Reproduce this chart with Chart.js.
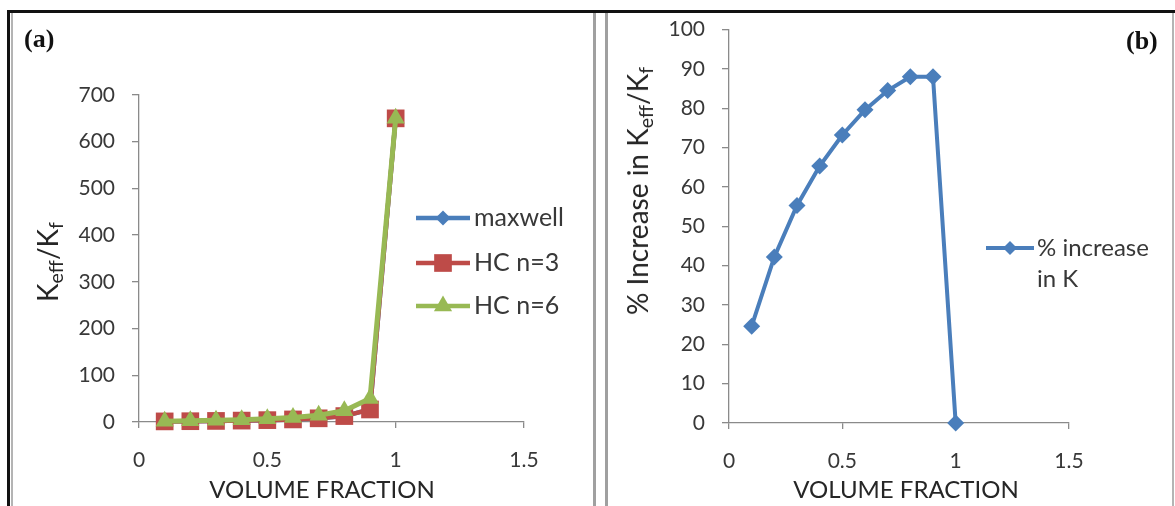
<!DOCTYPE html>
<html>
<head>
<meta charset="utf-8">
<script src="https://cdn.jsdelivr.net/npm/chart.js@4.4.1/dist/chart.umd.min.js"></script>
<style>
  html, body { margin:0; padding:0; background:#fff; }
  #wrap { position:relative; width:1175px; height:506px; overflow:hidden; background:#fff; font-family: Lato, "Open Sans", sans-serif; }
  canvas { position:absolute; top:0; }
  .ln { position:absolute; }
  .lbl { position:absolute; font-family:"Liberation Serif", "DejaVu Serif", serif; font-weight:bold; font-size:26px; color:#111; line-height:1; }
  .xt { position:absolute; font-family:Lato, sans-serif; font-size:24px; color:#262626; white-space:nowrap; transform:translate(-50%,-50%); line-height:1; }
  .yt { position:absolute; font-family:Lato, sans-serif; font-size:28px; color:#262626; white-space:nowrap; transform:translate(-50%,-50%) rotate(-90deg); line-height:1; }
  .yt sub { font-size:70%; vertical-align:-0.25em; line-height:0; }
</style>
</head>
<body>
<div id="wrap">
  <canvas id="ca" width="600" height="506" style="left:0px"></canvas>
  <canvas id="cb" width="575" height="506" style="left:600px"></canvas>

  <div class="ln" style="left:7px;top:10px;width:1168px;height:3px;background:#111"></div>
  <div class="ln" style="left:7px;top:10px;width:3px;height:496px;background:#111"></div>
  <div class="ln" style="left:11px;top:13px;width:2px;height:493px;background:#b4b4b4"></div>
  <div class="ln" style="left:593px;top:13px;width:3px;height:493px;background:#a0a0a0"></div>
  <div class="ln" style="left:605px;top:13px;width:3px;height:493px;background:#a0a0a0"></div>
  <div class="ln" style="left:1172px;top:13px;width:2px;height:493px;background:#b4b4b4"></div>

  <div class="lbl" style="left:24px;top:26px">(a)</div>
  <div class="lbl" style="left:1126px;top:28px">(b)</div>

  <div class="xt" style="left:322px;top:489px">VOLUME FRACTION</div>
  <div class="xt" style="left:906px;top:489px">VOLUME FRACTION</div>
  <div class="yt" style="left:47px;top:262px">K<sub>eff</sub>/K<sub>f</sub></div>
  <div class="yt" style="left:637px;top:191px">% Increase in K<sub>eff</sub>/K<sub>f</sub></div>
</div>
<script>
// ---- data ----
const volumeFraction = [0.1, 0.2, 0.3, 0.4, 0.5, 0.6, 0.7, 0.8, 0.9, 1.0];
const maxwell   = [1.3, 1.7, 2.3, 3.0, 4.0, 5.5, 7.9, 12.7, 26.8, 650];
const hcN3      = [1.3, 1.7, 2.3, 3.0, 4.0, 5.5, 7.9, 12.7, 26.8, 650];
const hcN6      = [1.7, 2.5, 3.5, 4.9, 6.9, 9.8, 14.6, 23.9, 50.4, 650];
const percentIncrease = [24.6, 42.2, 55.3, 65.3, 73.2, 79.6, 84.5, 88.0, 88.0, 0];
const xTicks = [0, 0.5, 1, 1.5];
const yTicksA = [0, 100, 200, 300, 400, 500, 600, 700];
const yTicksB = [0, 10, 20, 30, 40, 50, 60, 70, 80, 90, 100];
const legendA = ['maxwell', 'HC n=3', 'HC n=6'];
const legendB = ['% increase', 'in K'];

const BLUE = '#4A7EBB', RED = '#BE4B48', GREEN = '#98B954';
const AXIS = '#8a8a8a', TXT = '#383838';

function pts(ys) { return volumeFraction.map((x, i) => ({ x: x, y: ys[i] })); }

function drawMarker(ctx, style, x, y, r, color) {
  ctx.save();
  ctx.fillStyle = color;
  ctx.beginPath();
  if (style === 'rect') {
    const s = r * Math.SQRT1_2;
    ctx.rect(x - s, y - s, 2 * s, 2 * s);
  } else if (style === 'triangle') {
    ctx.moveTo(x, y - r);
    ctx.lineTo(x + r * Math.sqrt(3) / 2, y + r / 2);
    ctx.lineTo(x - r * Math.sqrt(3) / 2, y + r / 2);
    ctx.closePath();
  } else {
    ctx.moveTo(x, y - r); ctx.lineTo(x + r, y); ctx.lineTo(x, y + r); ctx.lineTo(x - r, y); ctx.closePath();
  }
  ctx.fill();
  ctx.restore();
}

const legendPlugin = {
  id: 'customLegend',
  afterDraw(chart, args, opts) {
    if (!opts || !opts.items) return;
    const ctx = chart.ctx;
    ctx.save();
    opts.items.forEach(it => {
      if (it.line) {
        ctx.strokeStyle = it.color;
        ctx.lineWidth = it.lw;
        ctx.beginPath();
        ctx.moveTo(it.x0, it.y); ctx.lineTo(it.x1, it.y); ctx.stroke();
        drawMarker(ctx, it.style, (it.x0 + it.x1) / 2, it.y, it.r, it.color);
      }
      ctx.fillStyle = TXT;
      ctx.font = it.font;
      ctx.textBaseline = 'middle';
      ctx.textAlign = 'left';
      ctx.fillText(it.text, it.tx, it.y);
    });
    ctx.restore();
  }
};

function axisX(w) {
  return {
    type: 'linear', min: 0, max: 1.5,
    afterBuildTicks: s => { s.ticks = xTicks.map(v => ({ value: v })); },
    afterFit: s => { s.height = w; },
    ticks: { color: TXT, font: { family: 'Lato', size: 21 }, padding: 20, callback: v => String(v) },
    grid: { drawOnChartArea: false, drawTicks: true, tickLength: 6, color: AXIS, lineWidth: 1.3 },
    border: { display: true, color: AXIS, width: 1.3 }
  };
}
function axisY(ticks, max, w) {
  return {
    type: 'linear', min: 0, max: max,
    afterBuildTicks: s => { s.ticks = ticks.map(v => ({ value: v })); },
    afterFit: s => { s.width = w; },
    ticks: { color: TXT, font: { family: 'Lato', size: 21 }, padding: 17, callback: v => String(v) },
    grid: { drawOnChartArea: false, drawTicks: true, tickLength: 7, color: AXIS, lineWidth: 1.3 },
    border: { display: true, color: AXIS, width: 1.3 }
  };
}

const common = {
  responsive: false, animation: false, devicePixelRatio: 1,
  events: [],
};

new Chart(document.getElementById('ca'), {
  type: 'line',
  data: {
    datasets: [
      { label: legendA[0], data: pts(maxwell), borderColor: BLUE, backgroundColor: BLUE, borderWidth: 4.5,
        pointStyle: 'rectRot', pointRadius: 7.5, pointBorderWidth: 0, order: 3, clip: false, tension: 0 },
      { label: legendA[1], data: pts(hcN3), borderColor: RED, backgroundColor: RED, borderWidth: 4.5,
        pointStyle: 'rect', pointRadius: 12.5, pointBorderWidth: 0, order: 2, clip: false, tension: 0 },
      { label: legendA[2], data: pts(hcN6), borderColor: GREEN, backgroundColor: GREEN, borderWidth: 5,
        pointStyle: 'triangle', pointRadius: 10.5, pointBorderWidth: 0, order: 1, clip: false, tension: 0 }
    ]
  },
  options: Object.assign({}, common, {
    layout: { padding: { left: 0, top: 95, right: 76, bottom: 34 } },
    scales: { x: axisX(50), y: axisY(yTicksA, 700, 139) },
    plugins: {
      legend: { display: false }, tooltip: { enabled: false },
      customLegend: { items: [
        { line: true, x0: 416, x1: 470, y: 218, color: BLUE, lw: 4.5, style: 'rectRot', r: 7.5, text: legendA[0], tx: 474, font: '25px Lato' },
        { line: true, x0: 416, x1: 470, y: 263, color: RED, lw: 4.5, style: 'rect', r: 12.5, text: legendA[1], tx: 474, font: '25px Lato' },
        { line: true, x0: 416, x1: 470, y: 306, color: GREEN, lw: 4.5, style: 'triangle', r: 10.5, text: legendA[2], tx: 474, font: '25px Lato' }
      ] }
    }
  }),
  plugins: [legendPlugin]
});

new Chart(document.getElementById('cb'), {
  type: 'line',
  data: {
    datasets: [
      { label: legendB.join(' '), data: pts(percentIncrease), borderColor: BLUE, backgroundColor: BLUE, borderWidth: 4,
        pointStyle: 'rectRot', pointRadius: 8.5, pointBorderWidth: 0, clip: false, tension: 0 }
    ]
  },
  options: Object.assign({}, common, {
    layout: { padding: { left: 0, top: 25, right: 106, bottom: 33 } },
    scales: { x: axisX(50), y: axisY(yTicksB, 100, 129) },
    plugins: {
      legend: { display: false }, tooltip: { enabled: false },
      customLegend: { items: [
        { line: true, x0: 386, x1: 434, y: 248, color: BLUE, lw: 4, style: 'rectRot', r: 7, text: legendB[0], tx: 437, font: '24px Lato' },
        { line: false, y: 279, text: legendB[1], tx: 437, font: '24px Lato' }
      ] }
    }
  }),
  plugins: [legendPlugin]
});
</script>
</body>
</html>
